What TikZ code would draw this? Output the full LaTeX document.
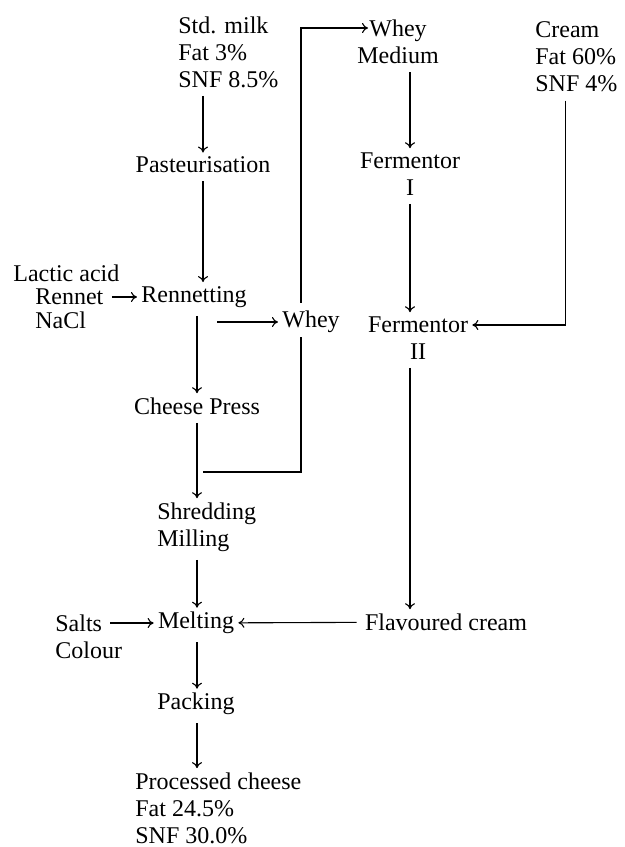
\documentclass[tikz,border=0pt]{standalone}
\usepackage{fontspec}
\setmainfont{Liberation Serif}
\usetikzlibrary{arrows.meta}
\tikzset{stage/.style={black,inner sep=2pt,font=\fontsize{12}{13.5}\selectfont}}
\tikzset{stack/.style={stage,align=left,anchor=west}}
\tikzset{flow/.style={-{To[length=3pt,width=5pt]},line width=0.55pt,shorten <=2pt}}
\tikzset{pipe/.style={-,line width=0.55pt}}

\begin{document}
\begin{tikzpicture}[x=0.5pt,y=-0.5pt]
    \useasboundingbox (0,0) rectangle (625,847);

    \node[stack] (milk) at (174,52) {Std. milk\\Fat 3\%\\SNF 8.5\%};
    \node[stage] (pasteur) at (203,165) {Pasteurisation};

    \node[stack] (lactic) at (9,273) {Lactic acid};
    \node[stack] (rennet) at (31,297) {Rennet};
    \node[stack] (nacl) at (31,320) {NaCl};
    \node[stage] (renneting) at (194,297) {Rennetting};

    \node[stage] (whey) at (311,322) {Whey};
    \node[stage] (press) at (197,406) {Cheese Press};
    \node[stack] (shred) at (153,527) {Shredding\\Milling};

    \node[stack] (salts) at (51,623) {Salts};
    \node[stack] (colour) at (51,650) {Colour};
    \node[stage] (melt) at (196,623) {Melting};
    \node[stage] (pack) at (196,704) {Packing};
    \node[stack] (product) at (131,808) {Processed cheese\\Fat 24.5\%\\SNF 30.0\%};

    \node[stage,align=center] (wmedium) at (398,42) {Whey\\Medium};
    \node[stage,align=center] (ferm1) at (410,174) {Fermentor\\I};
    \node[stage,align=center] (ferm2) at (418,338) {Fermentor\\II};
    \node[stack] (cream) at (531,57) {Cream\\Fat 60\%\\SNF 4\%};
    \node[stage] (flav) at (446,622) {Flavoured cream};

    \coordinate (rj) at (213,322);
    \coordinate (wj) at (203,472);
    \coordinate (wtip) at (368,28);

    % main line
    \draw[flow] (milk.south -| pasteur) -- (pasteur);
    \draw[flow] (pasteur) -- (pasteur |- renneting.north);
    \draw[flow] (rennet) -- (renneting);
    \draw[flow] (renneting.south -| press) -- (press);
    \draw[flow] (press) -- (press |- shred.north);
    \draw[flow] (shred.south -| press) -- (press |- melt.north);
    \draw[flow] (salts) -- (melt);
    \draw[flow] (melt.south -| press) -- (press |- pack.north);
    \draw[flow] (pack.south -| press) -- (press |- product.north);

    % whey
    \draw[flow] (rj) -- (whey);
    \draw[pipe] (wj) -| ([xshift=-5pt]whey.south);
    \draw[flow] ([xshift=-5pt]whey.north) |- (wtip);

    % cream
    \draw[flow] (wmedium.south -| ferm1) -- (ferm1);
    \draw[flow] (ferm1) -- (ferm1 |- ferm2.north);
    \draw[flow] ([xshift=-5.5pt]cream.south) |- ([yshift=6.5pt]ferm2.east);
    \draw[flow] (ferm2.south -| ferm1) -- (ferm1 |- flav.north);
    \draw[flow] (flav) -- (melt);
\end{tikzpicture}
\end{document}
